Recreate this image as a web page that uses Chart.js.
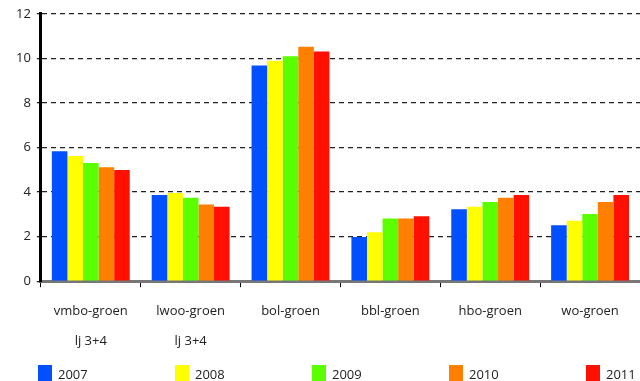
<!DOCTYPE html>
<html>
<head>
<meta charset="utf-8">
<script src="https://cdn.jsdelivr.net/npm/chart.js@4/dist/chart.umd.min.js"></script>
<style>
html,body{margin:0;padding:0;background:#fff;overflow:hidden;}
#wrap{width:640px;height:381px;position:relative;overflow:hidden;}
#legend{position:absolute;left:0;top:365px;width:640px;height:17px;font-family:'Open Sans',sans-serif;font-size:13px;color:#222;}
.li{position:absolute;top:0;height:17px;}
.sw{position:absolute;left:0;top:0;width:14px;height:17px;}
.lt{position:absolute;left:20px;top:1px;line-height:17px;white-space:nowrap;}
</style>
</head>
<body>
<div id="wrap"><canvas id="c" width="640" height="381"></canvas><div id="legend"></div></div>
<script>
const categories = [["vmbo-groen","lj 3+4"],["lwoo-groen","lj 3+4"],"bol-groen","bbl-groen","hbo-groen","wo-groen"];
const seriesNames = ["2007","2008","2009","2010","2011"];
const v2007 = [5.83, 3.87, 9.68, 1.98, 3.23, 2.51];
const v2008 = [5.62, 3.96, 9.89, 2.20, 3.34, 2.71];
const v2009 = [5.31, 3.74, 10.10, 2.81, 3.55, 3.02];
const v2010 = [5.11, 3.44, 10.52, 2.81, 3.74, 3.55];
const v2011 = [4.99, 3.34, 10.31, 2.92, 3.87, 3.87];
const yTicks = [0, 2, 4, 6, 8, 10, 12];

const colors = ["#0050ff","#ffff00","#5aff00","#ff8000","#ff1000"];
const values = [v2007, v2008, v2009, v2010, v2011];
const FONT = "'Open Sans', sans-serif";

// HTML legend (real text)
const leg = document.getElementById('legend');
seriesNames.forEach((n, i) => {
  const d = document.createElement('div');
  d.className = 'li';
  d.style.left = (38 + i * 137) + 'px';
  d.innerHTML = '<div class="sw" style="background:' + colors[i] + '"></div><div class="lt">' + n + '</div>';
  leg.appendChild(d);
});

new Chart(document.getElementById('c'), {
  type: 'bar',
  data: {
    labels: categories,
    datasets: seriesNames.map((n, i) => ({
      label: n,
      data: values[i],
      backgroundColor: colors[i],
      borderWidth: 0,
      categoryPercentage: 0.78,
      barPercentage: 1.0
    }))
  },
  options: {
    responsive: false,
    animation: false,
    layout: { padding: { top: 8, right: 0, left: 10, bottom: 16 } },
    plugins: {
      tooltip: { enabled: false },
      legend: { display: false }
    },
    scales: {
      x: {
        grid: { offset: true, drawOnChartArea: false, tickLength: 6, color: '#000', tickWidth: 1 },
        border: { display: true, color: '#777', width: 3 },
        ticks: { padding: 9, color: '#222', font: { family: FONT, size: 13, lineHeight: 2.3 }, maxRotation: 0 }
      },
      y: {
        min: 0, max: 12,
        afterBuildTicks: (s) => { s.ticks = yTicks.map(v => ({ value: v })); },
        grid: { color: '#222', tickLength: 4, lineWidth: 1.3 },
        border: { display: true, color: '#000', width: 3, dash: [5, 4] },
        ticks: { autoSkip: false, padding: 6, color: '#222', font: { family: FONT, size: 13 } }
      }
    }
  }
});
</script>
</body>
</html>
